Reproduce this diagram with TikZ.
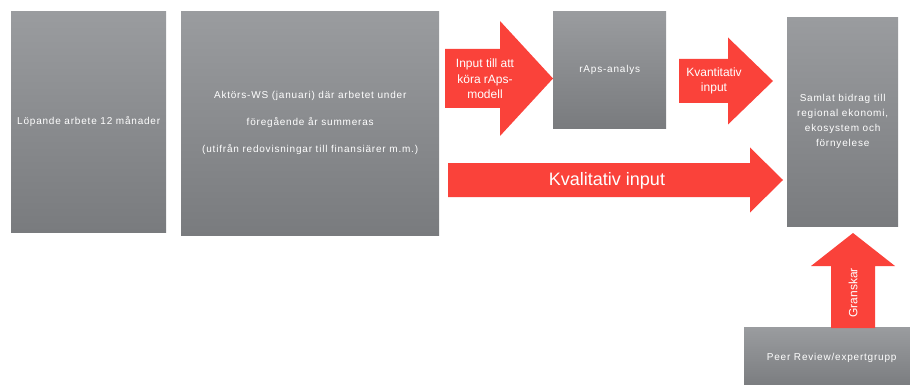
\documentclass[tikz,border=0pt]{standalone}
\usepackage{fontspec}
\setmainfont{Liberation Sans}
\newfontfamily\boxfont[LetterSpace=8]{Liberation Sans}
\definecolor{boxtop}{RGB}{154,156,159}
\definecolor{boxbottom}{RGB}{121,123,126}
\definecolor{arrowred}{RGB}{250,66,58}

% block arrow pointing right: x tail, x head base, x tip, y, half body, half head
\newcommand{\rightblock}[6]{%
  \fill[arrowred] (#1,#4-#5) -- (#2,#4-#5) -- (#2,#4-#6) -- (#3,#4)
    -- (#2,#4+#6) -- (#2,#4+#5) -- (#1,#4+#5) -- cycle;}

\begin{document}
\begin{tikzpicture}[x=1pt, y=-1pt,
box/.style={anchor=north west, top color=boxtop, bottom color=boxbottom, inner sep=0pt, align=center, text=white, font=\boxfont\fontsize{10}{15}\selectfont},
arrowtext/.style={text=white, align=center, inner sep=0pt, font=\fontsize{12}{15.5}\selectfont}
]
\useasboundingbox (0,0) rectangle (910,385);

% grey boxes
\node[box, minimum width=155, minimum height=221] (running) at (11,11) {Löpande arbete 12 månader};
\node[box, minimum width=258, minimum height=224] (workshop) at (181,11) {Aktörs-WS (januari) där arbetet under\\[12pt]
föregående år summeras\\[12pt]
(utifrån redovisningar till finansiärer m.m.)};
\node[box, minimum width=113, minimum height=117] (raps) at (553,11) {rAps-analys};
\node[box, minimum width=111, minimum height=209] (total) at (787,17) {Samlat bidrag till\\regional ekonomi,\\ekosystem och\\förnyelese};
\node[box, minimum width=175, minimum height=62] (peer) at (744,327) {Peer Review/expertgrupp};

% red block arrows
\rightblock{445}{500}{553}{78.5}{29.5}{57.5}
\rightblock{679}{728}{773}{81}{22}{43.5}
\rightblock{448}{750}{783}{180}{17}{32.5}
\fill[arrowred] (831,328) -- (831,266) -- (811,266) -- (853,233) -- (895,266) -- (875,266) -- (875,328) -- cycle;

% arrow labels
\node[arrowtext] (inputlbl) at (485,79) {Input till att\\köra rAps-\\modell};
\node[arrowtext] (kvantlbl) at (714,81) {Kvantitativ\\input};
\node[arrowtext, font=\fontsize{18}{20}\selectfont] (kvallbl) at (607,181) {Kvalitativ input};
\node[arrowtext, rotate=90] (granlbl) at (853,293) {Granskar};
\end{tikzpicture}
\end{document}
